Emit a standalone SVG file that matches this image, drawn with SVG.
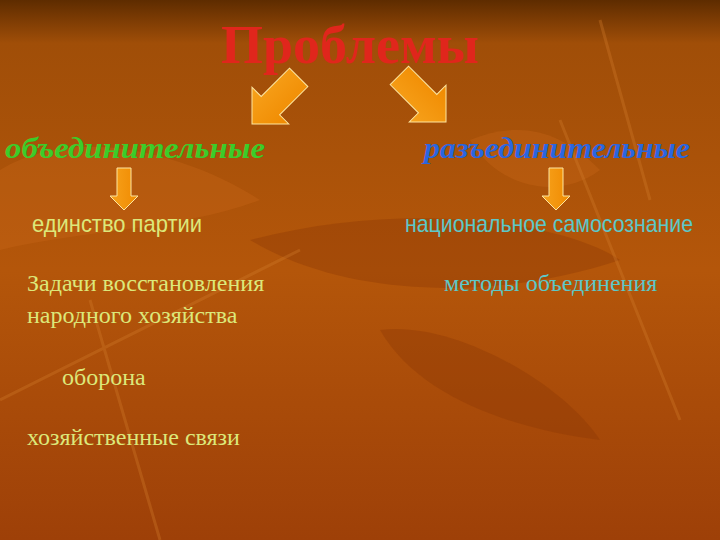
<svg xmlns="http://www.w3.org/2000/svg" width="720" height="540" viewBox="0 0 720 540">
<defs>
<linearGradient id="bg" x1="0" y1="0" x2="0" y2="1">
<stop offset="0" stop-color="#5e2c00"/>
<stop offset="0.08" stop-color="#a04e08"/>
<stop offset="0.5" stop-color="#b4560a"/>
<stop offset="1" stop-color="#9e4008"/>
</linearGradient>
<linearGradient id="ar" x1="0" y1="0" x2="1" y2="0">
<stop offset="0" stop-color="#f7a21c"/>
<stop offset="1" stop-color="#f08a00"/>
</linearGradient>
<polygon id="big" points="-13,-66 13,-66 13,-26 26,-26 0,0 -26,-26 -13,-26"/>
<polygon id="small" points="-7,-42 7,-42 7,-14 14,-14 0,0 -14,-14 -7,-14"/>
</defs>
<style>
.arrow{fill:url(#ar);stroke:#fde6a0;stroke-width:1}
.t{font-family:"Liberation Serif",serif}
.s{font-family:"Liberation Sans",sans-serif}
.l{fill:#dce87a;font-size:24px}
.r{fill:#5cc8c8;font-size:24px}
.leaf{fill:#c8661a;opacity:0.35}
.dark{fill:#8a3606;opacity:0.35}
</style>
<rect width="720" height="540" fill="url(#bg)"/>
<g id="background">
<path class="leaf" d="M0,170 C80,120 200,160 260,200 C180,230 80,230 0,250 Z"/>
<path class="dark" d="M250,240 C400,200 560,220 620,260 C500,300 350,300 250,240 Z"/>
<path class="leaf" d="M470,140 C520,120 560,130 600,170 C560,200 500,190 470,140 Z"/>
<path class="dark" d="M380,330 C450,320 560,380 600,440 C520,430 420,400 380,330 Z"/>
<path d="M0,400 L300,250 M560,120 L680,420 M90,300 L160,540 M600,20 L650,200" stroke="#d07a2a" stroke-width="3" opacity="0.35" fill="none"/>
</g>
<g id="title"><text class="t" x="350" y="63" font-size="54" font-weight="bold" fill="#e0261c" text-anchor="middle">Проблемы</text></g>
<g id="connectors">
<use href="#big" class="arrow" transform="translate(252,124) rotate(45)"/>
<use href="#big" class="arrow" transform="translate(446,122) rotate(-45)"/>
<use href="#small" class="arrow" transform="translate(124,210)"/>
<use href="#small" class="arrow" transform="translate(556,210)"/>
</g>
<g id="left-heading"><text class="t" x="5" y="158" font-size="29" font-style="italic" font-weight="bold" fill="#3ccc2a" textLength="260" lengthAdjust="spacingAndGlyphs">объединительные</text></g>
<g id="right-heading"><text class="t" x="424" y="158" font-size="29" font-style="italic" font-weight="bold" fill="#2a66e0" textLength="266" lengthAdjust="spacingAndGlyphs">разъединительные</text></g>
<g id="l1"><text class="s l" x="32" y="232" font-size="19" textLength="170" lengthAdjust="spacingAndGlyphs">единство партии</text></g>
<g id="l2"><text class="t l" x="27" y="291">Задачи восстановления</text><text class="t l" x="27" y="323">народного хозяйства</text></g>
<g id="l3"><text class="t l" x="62" y="385">оборона</text></g>
<g id="l4"><text class="t l" x="27" y="445">хозяйственные связи</text></g>
<g id="r1"><text class="s r" x="405" y="232" font-size="19" textLength="288" lengthAdjust="spacingAndGlyphs">национальное  самосознание</text></g>
<g id="r2"><text class="t r" x="444" y="291">методы объединения</text></g>
</svg>
